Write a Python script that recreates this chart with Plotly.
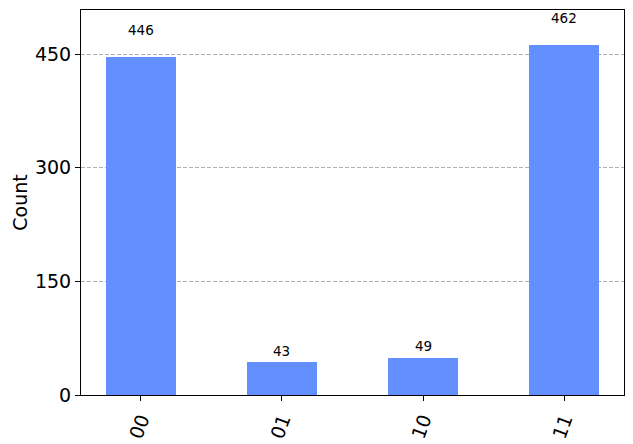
import plotly.graph_objects as go

states = ["00", "01", "10", "11"]
counts = [446, 43, 49, 462]
y_ticks = [0, 150, 300, 450]

bar_color = "#648fff"
font = "DejaVu Sans"

fig = go.Figure()
fig.add_trace(go.Bar(
    x=list(range(len(states))),
    y=counts,
    width=0.5,
    marker=dict(color=bar_color, line=dict(width=0)),
    hoverinfo="skip",
))

for i, c in enumerate(counts):
    fig.add_annotation(
        x=i, y=1.05 * c, text=str(c), showarrow=False,
        xanchor="center", yanchor="bottom",
        font=dict(family=font, size=13.5, color="black"),
        xref="x", yref="y",
    )

ymax = max(counts) * 1.1

fig.update_layout(
    width=633, height=444,
    margin=dict(l=81, r=9, t=10, b=49, autoexpand=False),
    paper_bgcolor="white", plot_bgcolor="white",
    showlegend=False,
    bargap=0,
    font=dict(family=font, color="black"),
)
fig.update_xaxes(
    range=[-0.425, len(states) - 1 + 0.425],
    tickvals=list(range(len(states))), ticktext=states,
    tickangle=-70,
    tickfont=dict(family=font, size=19, color="black"),
    showgrid=False, zeroline=False, automargin=False,
    showline=True, linecolor="black", linewidth=1, mirror=True,
    ticks="outside", ticklen=5, tickcolor="black",
)
fig.update_yaxes(
    range=[0, ymax],
    tickvals=y_ticks,
    tickfont=dict(family=font, size=19, color="black"),
    showgrid=True, gridcolor="#b0b0b0", griddash="4px,2px", gridwidth=1,
    zeroline=False, automargin=False,
    showline=True, linecolor="black", linewidth=1, mirror=True,
    ticks="outside", ticklen=5, tickcolor="black",
    title=dict(text="Count", font=dict(family=font, size=19, color="black"), standoff=2),
)

fig.write_html(
    "out.html",
    config={"displayModeBar": False},
    post_script="document.body.style.margin='0';document.body.style.overflow='hidden';",
)
